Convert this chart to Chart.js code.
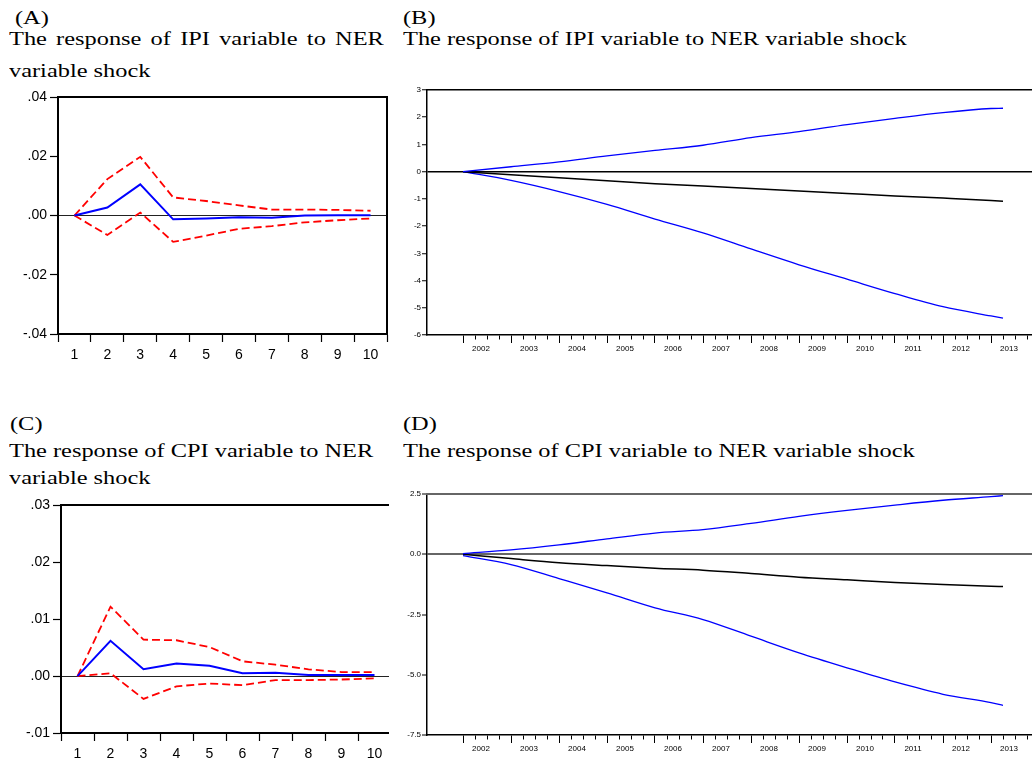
<!DOCTYPE html>
<html>
<head>
<meta charset="utf-8">
<script src="https://cdn.jsdelivr.net/npm/chart.js@4.4.1/dist/chart.umd.min.js"></script>
<style>
html, body { margin: 0; padding: 0; background: #fff; width: 1032px; height: 764px; overflow: hidden; position: relative; }
.t { position: absolute; font-family: "Liberation Serif", "Times New Roman", serif; font-size: 19.5px; line-height: 19.5px; color: #000; white-space: nowrap; transform: scaleX(1.25); transform-origin: 0 0; }
.box { position: absolute; overflow: hidden; }
canvas { display: block; }
</style>
</head>
<body>
<div class="t" style="left:15px;top:8px">(A)</div>
<div class="t" style="left:9px;top:29px;word-spacing:2.5px">The response of IPI variable to NER</div>
<div class="t" style="left:9px;top:61px">variable shock</div>
<div class="t" style="left:403px;top:8px">(B)</div>
<div class="t" style="left:403px;top:29px">The response of IPI variable to NER variable shock</div>

<div class="t" style="left:10px;top:414px">(C)</div>
<div class="t" style="left:9px;top:441px">The response of CPI variable to NER</div>
<div class="t" style="left:9px;top:468px">variable shock</div>
<div class="t" style="left:403px;top:414px">(D)</div>
<div class="t" style="left:403px;top:441px">The response of CPI variable to NER variable shock</div>

<div class="box" style="left:0;top:85px;width:400px;height:290px"><canvas id="chartA" width="400" height="290"></canvas></div>
<div class="box" style="left:400px;top:80px;width:663px;height:280px"><canvas id="chartB" width="663" height="280"></canvas></div>
<div class="box" style="left:0;top:494px;width:389px;height:270px"><canvas id="chartC" width="404" height="270"></canvas></div>
<div class="box" style="left:400px;top:484px;width:663px;height:280px"><canvas id="chartD" width="663" height="280"></canvas></div>

<script>
// impulse-response horizons, panels A and C
const horizons = ['1', '2', '3', '4', '5', '6', '7', '8', '9', '10'];

// (A) IPI response to NER shock
const ipiResp  = [0, 0.0027, 0.0105, -0.0013, -0.0010, -0.0006, -0.0008, 0.0000, 0.0001, 0.0001];
const ipiUpper = [0, 0.0123, 0.0198, 0.0061, 0.0049, 0.0034, 0.0020, 0.0020, 0.0019, 0.0016];
const ipiLower = [0, -0.0066, 0.0010, -0.0089, -0.0068, -0.0045, -0.0036, -0.0023, -0.0016, -0.0010];

// (C) CPI response to NER shock
const cpiResp  = [0, 0.0062, 0.0012, 0.0022, 0.0018, 0.0005, 0.0006, 0.0002, 0.0002, 0.0002];
const cpiUpper = [0, 0.0122, 0.0064, 0.0063, 0.0051, 0.0026, 0.0020, 0.0012, 0.0007, 0.0007];
const cpiLower = [0, 0.0005, -0.0040, -0.0018, -0.0013, -0.0016, -0.0007, -0.0007, -0.0006, -0.0004];

// panels B and D, read at each year start plus the last point
const years = [2002, 2003, 2004, 2005, 2006, 2007, 2008, 2009, 2010, 2011, 2012, 2013];
const periods = [2002, 2003, 2004, 2005, 2006, 2007, 2008, 2009, 2010, 2011, 2012, 2013, 2013.25];

const ipiPathUp  = [0, 0.18, 0.36, 0.58, 0.78, 0.97, 1.25, 1.47, 1.73, 1.96, 2.17, 2.32, 2.33];
const ipiPathMid = [0, -0.11, -0.22, -0.33, -0.44, -0.53, -0.62, -0.71, -0.80, -0.89, -0.97, -1.06, -1.09];
const ipiPathLo  = [0, -0.32, -0.73, -1.20, -1.74, -2.25, -2.84, -3.42, -3.95, -4.48, -4.96, -5.30, -5.38];

const cpiPathUp  = [0.03, 0.18, 0.39, 0.64, 0.88, 1.02, 1.28, 1.57, 1.82, 2.04, 2.24, 2.39, 2.43];
const cpiPathMid = [0, -0.18, -0.35, -0.47, -0.58, -0.66, -0.80, -0.95, -1.06, -1.17, -1.26, -1.33, -1.34];
const cpiPathLo  = [-0.06, -0.43, -1.01, -1.60, -2.22, -2.71, -3.40, -4.09, -4.71, -5.30, -5.81, -6.16, -6.27];

const SANS = 'Liberation Sans';

function dotFmt(v) {
    const s = Math.abs(v).toFixed(2).replace(/^0/, '');
    return (v < -1e-9 ? '-' : '') + s;
}

function irfChart(id, resp, upper, lower, range, box) {
    const dashed = { borderColor: '#ff0000', borderWidth: 1.8, borderDash: [8, 4], pointRadius: 0, tension: 0 };
    new Chart(document.getElementById(id), {
        type: 'line',
        data: {
            labels: horizons,
            datasets: [
                { data: resp, borderColor: '#0000ff', borderWidth: 2, pointRadius: 0, tension: 0 },
                Object.assign({ data: upper }, dashed),
                Object.assign({ data: lower }, dashed),
            ],
        },
        options: {
            responsive: false,
            animation: false,
            devicePixelRatio: 1,
            layout: { padding: box.padding },
            plugins: { legend: { display: false }, tooltip: { enabled: false } },
            scales: {
                x: {
                    type: 'category',
                    offset: true,
                    grid: { offset: true, drawOnChartArea: false, tickLength: 8, tickColor: '#000', tickWidth: 1.2 },
                    border: { color: '#000', width: 2 },
                    ticks: { color: '#000', font: { family: SANS, size: 14 }, padding: box.xPad, autoSkip: false, maxRotation: 0 },
                    afterFit: s => { s.height = box.xHeight; },
                },
                y: {
                    min: range[0], max: range[1],
                    grid: {
                        color: c => (c.tick && Math.abs(c.tick.value) < 1e-9 ? '#222' : 'rgba(0,0,0,0)'),
                        lineWidth: 1, tickLength: 8, tickColor: '#000', tickWidth: 1.2,
                    },
                    border: { color: '#000', width: 2 },
                    ticks: { stepSize: range[2], callback: dotFmt, color: '#000', font: { family: SANS, size: 14 }, padding: 3 },
                    afterFit: s => { s.width = box.yWidth; },
                },
                x2: {
                    type: 'linear', position: 'top',
                    grid: { display: false, drawTicks: false }, ticks: { display: false },
                    border: { color: '#000', width: 2 },
                    afterFit: s => { s.height = 0; },
                },
                y2: {
                    type: 'linear', position: 'right',
                    grid: { display: false, drawTicks: false }, ticks: { display: false },
                    border: { display: box.frameRight, color: '#000', width: 2 },
                    afterFit: s => { s.width = 0; },
                },
            },
        },
    });
}

function pathChart(id, up, mid, lo, range, fmt, refColor, refWidth, padTop, padBottom) {
    const pts = arr => periods.map((p, i) => ({ x: p, y: arr[i] }));
    const blue = { borderColor: '#0000ff', borderWidth: 1.3, pointRadius: 0, cubicInterpolationMode: 'monotone', xAxisID: 'x', yAxisID: 'y' };
    const quarterTicks = [];
    years.forEach(y => [0, 0.25, 0.5, 0.75].forEach(q => quarterTicks.push({ value: y + q })));
    new Chart(document.getElementById(id), {
        type: 'line',
        data: {
            datasets: [
                Object.assign({ data: pts(up) }, blue),
                { data: pts(mid), borderColor: '#000', borderWidth: 1.5, pointRadius: 0, cubicInterpolationMode: 'monotone', xAxisID: 'x', yAxisID: 'y' },
                Object.assign({ data: pts(lo) }, blue),
            ],
        },
        options: {
            responsive: false,
            animation: false,
            devicePixelRatio: 1,
            layout: { padding: { top: padTop, right: 0, bottom: padBottom, left: 0 } },
            plugins: { legend: { display: false }, tooltip: { enabled: false } },
            scales: {
                x: {
                    type: 'linear', min: 2001.25, max: 2014.5, weight: 0,
                    afterBuildTicks: s => { s.ticks = quarterTicks.map(t => ({ value: t.value })); },
                    grid: {
                        drawOnChartArea: false, tickLength: 8, tickColor: '#000', tickWidth: 1,
                        tickBorderDash: c => (c.tick && Math.abs(c.tick.value % 1) < 1e-6 ? [] : [4, 20]),
                    },
                    ticks: { display: false },
                    border: { color: '#000', width: 1.5 },
                    afterFit: s => { s.height = 8; },
                },
                xl: {
                    type: 'linear', position: 'bottom', min: 2001.25, max: 2014.5, weight: 1,
                    afterBuildTicks: s => { s.ticks = years.map(y => ({ value: y + 0.375 })); },
                    grid: { display: false, drawTicks: false },
                    border: { display: false },
                    ticks: { callback: (v, i) => String(years[i]), color: '#000', font: { family: SANS, size: 8 }, padding: 1, autoSkip: false, maxRotation: 0 },
                    afterFit: s => { s.height = 12; },
                },
                y: {
                    min: range[0], max: range[1],
                    grid: {
                        color: c => (c.tick && Math.abs(c.tick.value) < 1e-9 ? refColor : 'rgba(0,0,0,0)'),
                        lineWidth: refWidth, tickLength: 5, tickColor: '#000', tickWidth: 1,
                    },
                    border: { color: '#000', width: 1.5 },
                    ticks: { stepSize: range[2], callback: fmt, color: '#000', font: { family: SANS, size: 8 }, padding: 1 },
                    afterFit: s => { s.width = 27; },
                },
                x2: {
                    type: 'linear', position: 'top',
                    grid: { display: false, drawTicks: false }, ticks: { display: false },
                    border: { color: refColor, width: refWidth },
                    afterFit: s => { s.height = 0; },
                },
            },
        },
    });
}

irfChart('chartA', ipiResp, ipiUpper, ipiLower, [-0.04, 0.04, 0.02],
    { padding: { top: 12, right: 13, bottom: 5, left: 0 }, xHeight: 36, yWidth: 58, xPad: 5, frameRight: true });
irfChart('chartC', cpiResp, cpiUpper, cpiLower, [-0.01, 0.03, 0.01],
    { padding: { top: 10, right: 13, bottom: 0, left: 0 }, xHeight: 31, yWidth: 61, xPad: 5, frameRight: false });

pathChart('chartB', ipiPathUp, ipiPathMid, ipiPathLo, [-6, 3, 1], v => String(v), '#000', 1.5, 10, 5);
pathChart('chartD', cpiPathUp, cpiPathMid, cpiPathLo, [-7.5, 2.5, 2.5], v => v.toFixed(1), '#666', 2, 10, 9);
</script>
</body>
</html>
